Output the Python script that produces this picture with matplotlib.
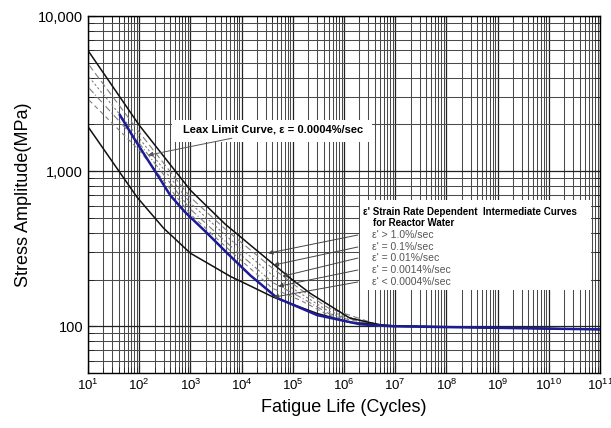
import numpy as np
import matplotlib
matplotlib.use("Agg")
import matplotlib.pyplot as plt
from matplotlib.patches import Rectangle
from matplotlib.ticker import FuncFormatter, LogLocator, NullFormatter

plt.rcParams["font.family"] = ["Liberation Sans", "DejaVu Sans"]

# curves (cycles, MPa)
upper_n = [10.5, 100, 1000, 4800, 2.3e4, 9e4, 2.2e5, 1.3e6, 6e6, 3e7, 1e11]
upper_s = [5860, 1980, 754, 455, 296, 204, 163, 113, 101, 100, 95.5]

lower_n = [10.5, 91, 300, 1000, 6000, 1.48e4, 4.2e4, 3e5, 1.3e6, 1.26e7, 1e11]
lower_s = [1893, 679, 429, 296, 210, 182, 154, 121, 106, 100, 95.5]

leax_n = [42, 83, 250, 403, 790, 2130, 5250, 1.48e4, 5e4, 3e5, 2.1e6, 9.3e6, 1e11]
leax_s = [2300, 1590, 900, 700, 544, 398, 296, 213, 152, 118, 103, 100, 95.5]

mid_n = [10.5, 100, 1000, 4800, 4e4, 1.41e5, 5e5, 5e6, 3e7, 1e11]
mid_s = {
    "0.1": [4830, 1785, 679, 423, 237, 173, 131, 101.5, 100, 95.5],
    "0.01": [4040, 1633, 622, 387, 213, 163, 125, 101, 100, 95.5],
    "0.0014": [3430, 1516, 569, 353, 192, 154, 121, 100.5, 100, 95.5],
    "0.0004": [2870, 1366, 528, 328, 176, 147, 118, 100, 100, 95.5],
}
mid_styles = [(0, (6, 3)), (0, (2, 2)), (0, (6, 2, 1, 2)), (0, (4, 3))]

rate_labels = ["ε' > 1.0%/sec", "ε' = 0.1%/sec", "ε' = 0.01%/sec",
               "ε' = 0.0014%/sec", "ε' < 0.0004%/sec"]
rate_tips = [(3.3e4, 296), (4.2e4, 248), (6.25e4, 210), (5.2e4, 181), (4.2e4, 154)]

fig = plt.figure(figsize=(6.11, 4.28), dpi=100)
ax = fig.add_axes([0.144, 0.1285, 0.838, 0.834])
ax.set_xscale("log")
ax.set_yscale("log")
ax.set_xlim(10, 1e11)
ax.set_ylim(50, 10000)

ax.xaxis.set_major_locator(LogLocator(base=10, numticks=20))
ax.xaxis.set_minor_locator(LogLocator(base=10, subs=np.arange(2, 10), numticks=20))
ax.xaxis.set_minor_formatter(NullFormatter())
ax.yaxis.set_major_locator(LogLocator(base=10, numticks=20))
ax.yaxis.set_minor_locator(LogLocator(base=10, subs=np.arange(2, 10), numticks=20))
ax.yaxis.set_major_formatter(FuncFormatter(lambda v, p: f"{v:,.0f}"))
ax.yaxis.set_minor_formatter(NullFormatter())

ax.grid(which="major", color="#222222", lw=0.9)
ax.grid(which="minor", color="#4a4a4a", lw=0.75)
ax.set_axisbelow(True)
ax.tick_params(which="both", direction="in", top=True, right=True, color="#222222")
ax.tick_params(axis="x", labelsize=9.5)
ax.tick_params(axis="y", labelsize=10.5)
ax.tick_params(which="major", length=6)
ax.tick_params(which="minor", length=4)
for sp in ax.spines.values():
    sp.set_linewidth(1.0)

# white panels behind the annotation text
ax.add_patch(Rectangle((0.164, 0.647), 0.39, 0.062, transform=ax.transAxes,
                       facecolor="white", edgecolor="none", zorder=1.5))
ax.add_patch(Rectangle((0.531, 0.2325), 0.452, 0.2525, transform=ax.transAxes,
                       facecolor="white", edgecolor="none", zorder=1.5))

for (key, vals), ls in zip(mid_s.items(), mid_styles):
    ax.plot(mid_n, vals, color="#808080", lw=0.8, ls=ls, zorder=3)
ax.plot(upper_n, upper_s, color="#111111", lw=1.1, zorder=4)
ax.plot(lower_n, lower_s, color="#111111", lw=1.1, zorder=4)
ax.plot(leax_n, leax_s, color="#1c1c96", lw=1.8, zorder=5)

ax.annotate("Leax Limit Curve, ε = 0.0004%/sec", xy=(149, 1268), xycoords="data",
            xytext=(0.1855, 0.681), textcoords="axes fraction",
            fontsize=8, fontweight="bold", va="center", ha="left", zorder=6,
            arrowprops=dict(arrowstyle="-|>", color="#555555", lw=0.7,
                            mutation_scale=7, shrinkA=2, shrinkB=0))

ax.text(0.537, 0.451, "ε' Strain Rate Dependent  Intermediate Curves", transform=ax.transAxes,
        fontsize=7, fontweight="bold", va="center", ha="left", zorder=6)
ax.text(0.557, 0.420, "for Reactor Water", transform=ax.transAxes,
        fontsize=7, fontweight="bold", va="center", ha="left", zorder=6)

label_y = [0.3866, 0.353, 0.322, 0.2885, 0.255]
for lab, tip, yy in zip(rate_labels, rate_tips, label_y):
    ax.text(0.5547, yy, lab, transform=ax.transAxes, fontsize=7.5, color="#555555",
            va="center", ha="left", zorder=6)
    ax.annotate("", xy=tip, xycoords="data", xytext=(0.527, yy), textcoords="axes fraction",
                zorder=6,
                arrowprops=dict(arrowstyle="-|>", color="#444444", lw=0.7,
                                mutation_scale=7, shrinkA=0, shrinkB=0))

ax.set_xlabel("Fatigue Life (Cycles)", fontsize=13, labelpad=4)
ax.set_ylabel("Stress Amplitude(MPa)", fontsize=13, labelpad=4)

fig.savefig("out.png", dpi=100)
